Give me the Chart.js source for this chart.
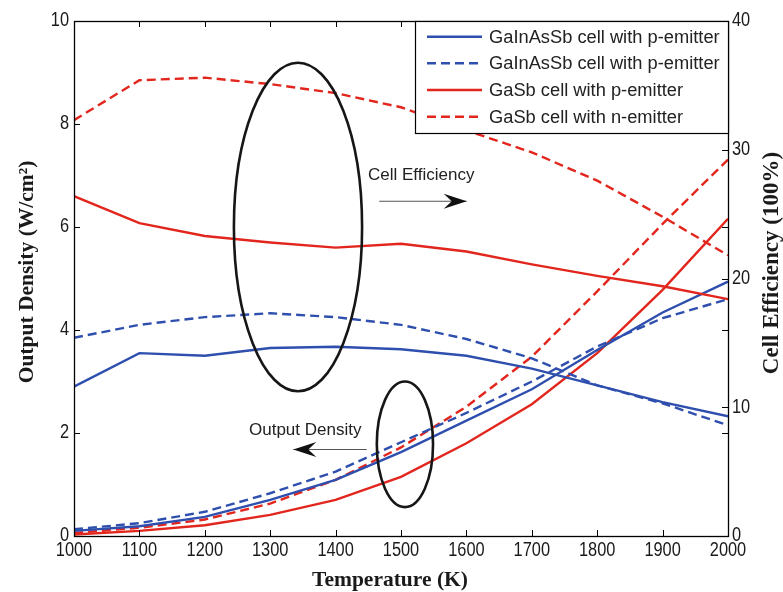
<!DOCTYPE html>
<html>
<head>
<meta charset="utf-8">
<script src="https://cdn.jsdelivr.net/npm/chart.js@4.4.1/dist/chart.umd.min.js"></script>
<style>
  html, body { margin: 0; padding: 0; background: #fff; }
  #wrap { width: 783px; height: 592px; position: relative; }
</style>
</head>
<body>
<div id="wrap"><canvas id="c" width="783" height="592"></canvas></div>
<script>
// ---- data ----
const temperatures = [1000, 1100, 1200, 1300, 1400, 1500, 1600, 1700, 1800, 1900, 2000];
const xTicks = [1000, 1100, 1200, 1300, 1400, 1500, 1600, 1700, 1800, 1900, 2000];
const leftTicks = [0, 2, 4, 6, 8, 10];
const rightTicks = [0, 10, 20, 30, 40];

// Cell efficiency (%), right axis
const effGaInAsSbP   = [11.6, 14.2, 14.0, 14.6, 14.7, 14.5, 14.0, 13.0, 11.7, 10.4, 9.3];
const effGaInAsSbP2  = [15.4, 16.4, 17.0, 17.3, 17.0, 16.4, 15.3, 13.8, 11.7, 10.3, 8.6];
const effGaSbP       = [26.4, 24.3, 23.3, 22.8, 22.4, 22.7, 22.1, 21.1, 20.2, 19.4, 18.4];
const effGaSbN       = [32.3, 35.4, 35.6, 35.1, 34.4, 33.3, 31.5, 29.8, 27.6, 24.8, 21.8];

// Output density (W/cm^2), left axis
const powGaInAsSbP   = [0.10, 0.19, 0.37, 0.70, 1.09, 1.63, 2.24, 2.85, 3.61, 4.34, 4.94];
const powGaInAsSbP2  = [0.13, 0.25, 0.47, 0.83, 1.25, 1.82, 2.39, 3.00, 3.68, 4.23, 4.60];
const powGaSbP       = [0.03, 0.10, 0.21, 0.41, 0.70, 1.15, 1.80, 2.56, 3.55, 4.78, 6.16];
const powGaSbN       = [0.06, 0.16, 0.32, 0.63, 1.09, 1.72, 2.51, 3.48, 4.75, 6.06, 7.31];

const legendLabels = [
  'GaInAsSb cell with p-emitter',
  'GaInAsSb cell with p-emitter',
  'GaSb cell with p-emitter',
  'GaSb cell with n-emitter'
];
const xTitle = 'Temperature (K)';
const leftTitle = 'Output Density (W/cm\u00B2)';
const rightTitle = 'Cell Efficiency (100%)';
const noteEff = 'Cell Efficiency';
const notePow = 'Output Density';

// ---- styles ----
const BLUE = '#2f4fae';
const RED = '#e2261d';
const DASH = [9, 5];
const styles = [
  { color: BLUE, dash: [] },
  { color: BLUE, dash: DASH },
  { color: RED, dash: [] },
  { color: RED, dash: DASH }
];

const pts = arr => temperatures.map((t, i) => ({ x: t, y: arr[i] }));
function ds(label, arr, st, axis) {
  return {
    label, data: pts(arr), yAxisID: axis,
    borderColor: st.color, backgroundColor: st.color,
    borderDash: st.dash, borderWidth: 2.4,
    pointRadius: 0, tension: 0, fill: false
  };
}
const effSeries = [effGaInAsSbP, effGaInAsSbP2, effGaSbP, effGaSbN];
const powSeries = [powGaInAsSbP, powGaInAsSbP2, powGaSbP, powGaSbN];
const datasets = [];
effSeries.forEach((s, i) => datasets.push(ds(legendLabels[i] + ' (efficiency)', s, styles[i], 'y1')));
powSeries.forEach((s, i) => datasets.push(ds(legendLabels[i] + ' (output)', s, styles[i], 'y')));

const TICK_FONT = "19.5px 'Liberation Sans', Arial, sans-serif";
const TICK_SQUEEZE = 0.84;
const TEXT_COLOR = '#1a1a1a';

function arrow(ctx, x0, x1, y) {
  ctx.save();
  ctx.strokeStyle = '#555';
  ctx.lineWidth = 1.2;
  ctx.beginPath();
  ctx.moveTo(x0, y); ctx.lineTo(x1, y); ctx.stroke();
  const dir = Math.sign(x1 - x0);
  const L = 23, H = 7.5, notch = 8;
  ctx.fillStyle = '#111';
  ctx.beginPath();
  ctx.moveTo(x1, y);
  ctx.lineTo(x1 - dir * L, y - H);
  ctx.lineTo(x1 - dir * (L - notch), y);
  ctx.lineTo(x1 - dir * L, y + H);
  ctx.closePath();
  ctx.fill();
  ctx.restore();
}

function squeezedText(ctx, txt, x, y, align) {
  ctx.save();
  ctx.translate(x, y);
  ctx.scale(TICK_SQUEEZE, 1);
  ctx.textAlign = align;
  ctx.fillText(txt, 0, 0);
  ctx.restore();
}

const decor = {
  id: 'decor',
  afterDatasetsDraw(chart) {
    const { ctx, scales: { x, y } } = chart;
    ctx.save();
    // ellipses (data coordinates)
    ctx.strokeStyle = '#161616';
    ctx.lineWidth = 2.6;
    const ell = (cx, cy, rxT, ryV) => {
      const px = x.getPixelForValue(cx), py = y.getPixelForValue(cy);
      const rx = Math.abs(x.getPixelForValue(cx + rxT) - px);
      const ry = Math.abs(y.getPixelForValue(cy + ryV) - py);
      ctx.beginPath();
      ctx.ellipse(px, py, rx, ry, 0, 0, Math.PI * 2);
      ctx.stroke();
    };
    ell(1342.5, 6.0, 98, 3.19);
    ell(1506, 1.78, 43, 1.22);
    // notes
    ctx.fillStyle = '#222';
    ctx.font = "17px 'Liberation Sans', Arial, sans-serif";
    ctx.textBaseline = 'middle';
    ctx.textAlign = 'left';
    ctx.fillText(noteEff, x.getPixelForValue(1449.5), y.getPixelForValue(7.01));
    ctx.fillText(notePow, x.getPixelForValue(1267.6), y.getPixelForValue(2.06));
    arrow(ctx, x.getPixelForValue(1466.8), x.getPixelForValue(1600.5), y.getPixelForValue(6.50));
    arrow(ctx, x.getPixelForValue(1447.6), x.getPixelForValue(1335.3), y.getPixelForValue(1.68));
    ctx.restore();
  },
  afterDraw(chart) {
    const { ctx, chartArea: { left, right, top, bottom }, scales: { x, y, y1 } } = chart;
    ctx.save();
    ctx.strokeStyle = '#000';
    ctx.lineWidth = 1;
    const T = 6;
    ctx.beginPath();
    xTicks.forEach(v => {
      const p = Math.round(x.getPixelForValue(v)) + 0.5;
      ctx.moveTo(p, bottom); ctx.lineTo(p, bottom - T);
      ctx.moveTo(p, top); ctx.lineTo(p, top + T);
    });
    leftTicks.forEach(v => {
      const p = Math.round(y.getPixelForValue(v)) + 0.5;
      ctx.moveTo(left, p); ctx.lineTo(left + T, p);
      ctx.moveTo(right, p); ctx.lineTo(right - T, p);
    });
    rightTicks.forEach(v => {
      const p = Math.round(y1.getPixelForValue(v)) + 0.5;
      ctx.moveTo(right, p); ctx.lineTo(right - T, p);
    });
    ctx.stroke();
    ctx.lineWidth = 1.3;
    ctx.strokeRect(Math.round(left) + 0.5, Math.round(top) + 0.5, Math.round(right - left), Math.round(bottom - top));

    // tick labels
    ctx.fillStyle = TEXT_COLOR;
    ctx.font = TICK_FONT;
    ctx.textBaseline = 'middle';
    xTicks.forEach(v => squeezedText(ctx, String(v), x.getPixelForValue(v), bottom + 15, 'center'));
    leftTicks.forEach(v => squeezedText(ctx, String(v), left - 5, y.getPixelForValue(v), 'right'));
    rightTicks.forEach(v => squeezedText(ctx, String(v), right + 4, y1.getPixelForValue(v), 'left'));

    // axis titles
    ctx.font = "bold 21.5px 'Liberation Serif', 'Times New Roman', serif";
    ctx.textAlign = 'center';
    ctx.textBaseline = 'middle';
    ctx.fillText(xTitle, 390, bottom + 44);
    ctx.save();
    ctx.translate(27, 272);
    ctx.rotate(-Math.PI / 2);
    ctx.fillText(leftTitle, 0, 0);
    ctx.restore();
    ctx.save();
    ctx.translate(772, 263);
    ctx.rotate(-Math.PI / 2);
    ctx.font = "bold 23px 'Liberation Serif', 'Times New Roman', serif";
    ctx.fillText(rightTitle, 0, 0);
    ctx.restore();

    // legend box
    const lx0 = 415.5, ly0 = top + 0.5, lx1 = right + 0.5, ly1 = 133.5;
    ctx.fillStyle = '#fff';
    ctx.fillRect(lx0, ly0, lx1 - lx0, ly1 - ly0);
    ctx.strokeStyle = '#000';
    ctx.lineWidth = 1.2;
    ctx.strokeRect(lx0, ly0, lx1 - lx0, ly1 - ly0);
    const rows = [36.7, 63.3, 90, 116.7];
    ctx.font = "18.3px 'Liberation Sans', Arial, sans-serif";
    ctx.textBaseline = 'middle';
    ctx.textAlign = 'left';
    legendLabels.forEach((lab, i) => {
      const ry = rows[i];
      ctx.strokeStyle = styles[i].color;
      ctx.lineWidth = 2.4;
      ctx.setLineDash(styles[i].dash);
      ctx.beginPath(); ctx.moveTo(427, ry); ctx.lineTo(482, ry); ctx.stroke();
      ctx.setLineDash([]);
      ctx.fillStyle = '#222';
      ctx.fillText(lab, 489, ry + 1);
    });
    ctx.restore();
  }
};

new Chart(document.getElementById('c'), {
  type: 'line',
  data: { datasets },
  options: {
    responsive: false,
    animation: false,
    devicePixelRatio: 1,
    layout: { padding: { top: 21, left: 0, right: 0, bottom: 0 } },
    plugins: { legend: { display: false }, tooltip: { enabled: false } },
    scales: {
      x: {
        type: 'linear', min: 1000, max: 2000,
        afterFit: s => { s.height = 56; },
        afterBuildTicks: s => { s.ticks = xTicks.map(v => ({ value: v })); },
        grid: { display: false },
        border: { display: false },
        ticks: { display: false }
      },
      y: {
        type: 'linear', position: 'left', min: 0, max: 10,
        afterFit: s => { s.width = 74; },
        afterBuildTicks: s => { s.ticks = leftTicks.map(v => ({ value: v })); },
        grid: { display: false },
        border: { display: false },
        ticks: { display: false }
      },
      y1: {
        type: 'linear', position: 'right', min: 0, max: 40,
        afterFit: s => { s.width = 55; },
        afterBuildTicks: s => { s.ticks = rightTicks.map(v => ({ value: v })); },
        grid: { display: false },
        border: { display: false },
        ticks: { display: false }
      }
    }
  },
  plugins: [decor]
});
</script>
</body>
</html>
